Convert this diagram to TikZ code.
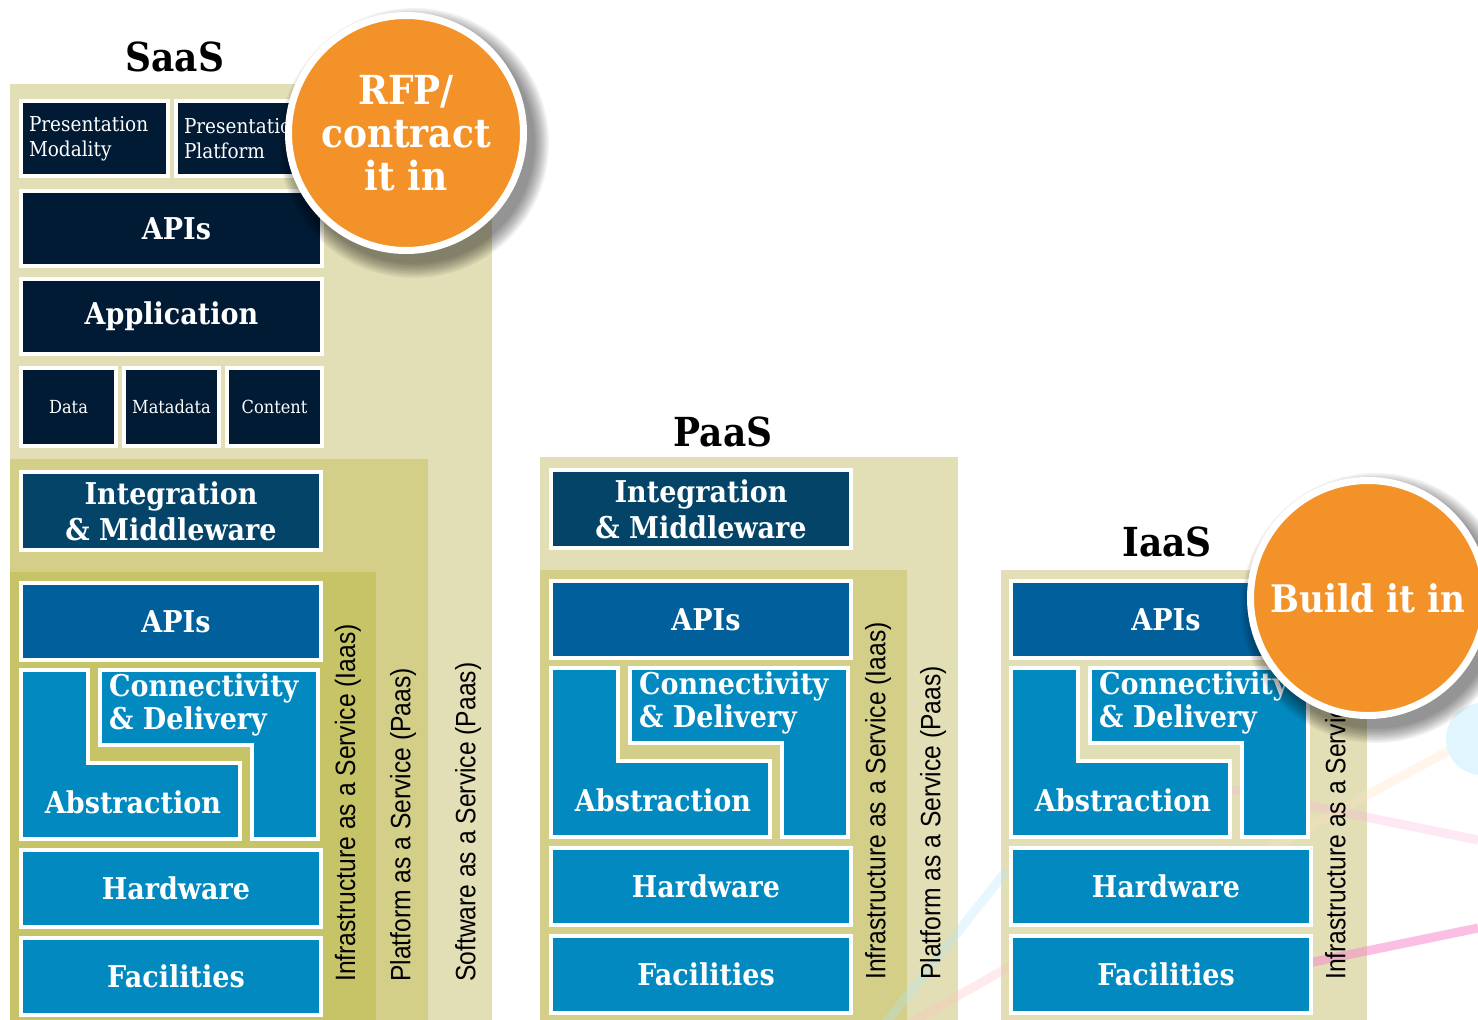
\documentclass[tikz,border=0pt]{standalone}
\usepackage{fontspec}
\setmainfont[FakeStretch=0.9]{DejaVu Serif}
\setsansfont{Liberation Sans}
\usepackage{graphicx}

\definecolor{khakiA}{HTML}{E2DFB6}
\definecolor{khakiB}{HTML}{D3CF89}
\definecolor{khakiC}{HTML}{C7C367}
\definecolor{navy}{HTML}{021B34}
\definecolor{midblue}{HTML}{034468}
\definecolor{apiblue}{HTML}{01609C}
\definecolor{lightblue}{HTML}{0189C0}
\definecolor{bubbleorange}{HTML}{F29229}

\tikzset{
  box/.style={draw=white, line width=4pt, text=white, inner sep=0pt, align=center},
  darkbox/.style={box, fill=navy, minimum width=301pt, minimum height=75pt,
    font=\fontsize{30}{33}\selectfont\bfseries},
  smallbox/.style={box, fill=navy, minimum height=78pt, minimum width=95pt,
    font=\fontsize{18}{20}\selectfont},
  presbox/.style={box, fill=navy, minimum height=75pt, text width=131pt, inner xsep=8pt,
    align=left, font=\fontsize{20.5}{25}\selectfont},
  midbox/.style={box, fill=midblue, minimum width=300pt, minimum height=78pt,
    font=\fontsize{30}{36}\selectfont\bfseries},
  apibox/.style={box, fill=apiblue, minimum width=300pt, minimum height=77pt,
    font=\fontsize{30}{33}\selectfont\bfseries},
  hwbox/.style={box, fill=lightblue, minimum width=300pt, minimum height=77pt,
    font=\fontsize{30}{33}\selectfont\bfseries},
  lbox/.style={draw=white, line width=4pt, fill=lightblue},
  ltext/.style={text=white, inner sep=0pt, align=left, font=\fontsize{30}{33}\selectfont\bfseries},
  vlabel/.style={rotate=90, anchor=west, inner sep=0pt, font=\sffamily\fontsize{28}{28}\selectfont},
  heading/.style={inner sep=0pt, font=\fontsize{40}{40}\selectfont\bfseries},
  bubble/.style={circle, fill=bubbleorange, draw=white, line width=7pt, minimum size=235pt,
    text=white, align=center, inner sep=0pt, font=\fontsize{40}{43}\selectfont\bfseries},
  faint/.style={line width=9pt, opacity=0.3}
}

\begin{document}
\begin{tikzpicture}[x=1pt, y=-1pt]
  \useasboundingbox (0,0) rectangle (1478,1020);
  \clip (0,0) rectangle (1478,1020);
  \fill[white] (0,0) rectangle (1478,1020);

  % layered backgrounds
  \fill[khakiA] (10,84) rectangle (492,1020);
  \fill[khakiB] (10,459) rectangle (428,1020);
  \fill[khakiC] (10,572) rectangle (376,1020);
  \fill[khakiA] (540,457) rectangle (958,1020);
  \fill[khakiB] (540,570) rectangle (907,1020);
  \fill[khakiA] (1001,570) rectangle (1367,1020);

  % faint network behind
  \draw[faint, cyan!30] (880,1030) -- (1007,870);
  \draw[faint, red!25] (880,1040) -- (1030,955);
  \draw[faint, magenta!30] (1200,783) -- (1478,840);
  \draw[faint, magenta!45, opacity=0.55] (1250,975) -- (1478,928);
  \draw[faint, orange!25] (1230,870) -- (1450,750);
  \fill[cyan!12] (1482,739) circle (36);

  \node[heading] (saas) at (175,57) {SaaS};
  \node[heading] (paas) at (723,432) {PaaS};
  \node[heading] (iaas) at (1167,542) {IaaS};

  % software layer
  \node[presbox] (pmod) at (94.5,138.5) {Presentation\\Modality};
  \node[presbox] (pplat) at (249.5,138.5) {Presentation\\Platform};
  \node[darkbox] (sapi) at (171.5,228.5) {\hspace*{10pt}APIs};
  \node[darkbox] (app) at (171.5,316.5) {Application};
  \node[smallbox] (data) at (68.5,407) {Data};
  \node[smallbox] (meta) at (171.5,407) {Matadata};
  \node[smallbox] (cont) at (274.5,407) {Content};

  % platform layer
  \node[midbox] (int-s) at (171,511) {Integration\\\& Middleware};
  \node[midbox] (int-p) at (701,509) {Integration\\\& Middleware};

  % infrastructure stack, once per column
  \foreach \dx/\dy/\n in {0/0/s,530/-2/p,990/-2/i}{
    \begin{scope}[shift={(\dx,\dy)}]
      \node[apibox] (api-\n) at (171,621.5) {\hspace*{10pt}APIs};
      \draw[lbox] (21,670) -- (88,670) -- (88,763) -- (240,763) -- (240,839) -- (21,839) -- cycle;
      \draw[lbox] (100,670) -- (318,670) -- (318,839) -- (252,839) -- (252,745) -- (100,745) -- cycle;
      \node[ltext, anchor=west] (con-\n) at (109,704.5) {Connectivity\\\& Delivery};
      \node[ltext] (abs-\n) at (133,802) {Abstraction};
      \node[hwbox] (hw-\n) at (171,888) {\hspace*{10pt}Hardware};
      \node[hwbox] (fac-\n) at (171,976.5) {\hspace*{10pt}Facilities};
      \node[vlabel] (ilab-\n) at (348,982) {\scalebox{0.88}[1]{Infrastructure as a Service (Iaas)}};
    \end{scope}
  }
  \node[vlabel] (plab-s) at (403,982) {\scalebox{0.88}[1]{Platform as a Service (Paas)}};
  \node[vlabel] (plab-p) at (933,980) {\scalebox{0.88}[1]{Platform as a Service (Paas)}};
  \node[vlabel] (slab-s) at (468,982) {\scalebox{0.88}[1]{Software as a Service (Paas)}};

  % bubbles with soft shadow
  \foreach \k in {0,...,9}{
    \fill[black, opacity=0.05] (414,143) circle (121+14-\k*1.6);
    \fill[black, opacity=0.05] (1376,608) circle (121+14-\k*1.6);
  }
  \node[bubble] (rfp) at (406,133) {RFP/\\contract\\it in};
  \node[bubble, font=\fontsize{38}{40}\selectfont\bfseries] (build) at (1368,598) {Build it in};
\end{tikzpicture}
\end{document}
